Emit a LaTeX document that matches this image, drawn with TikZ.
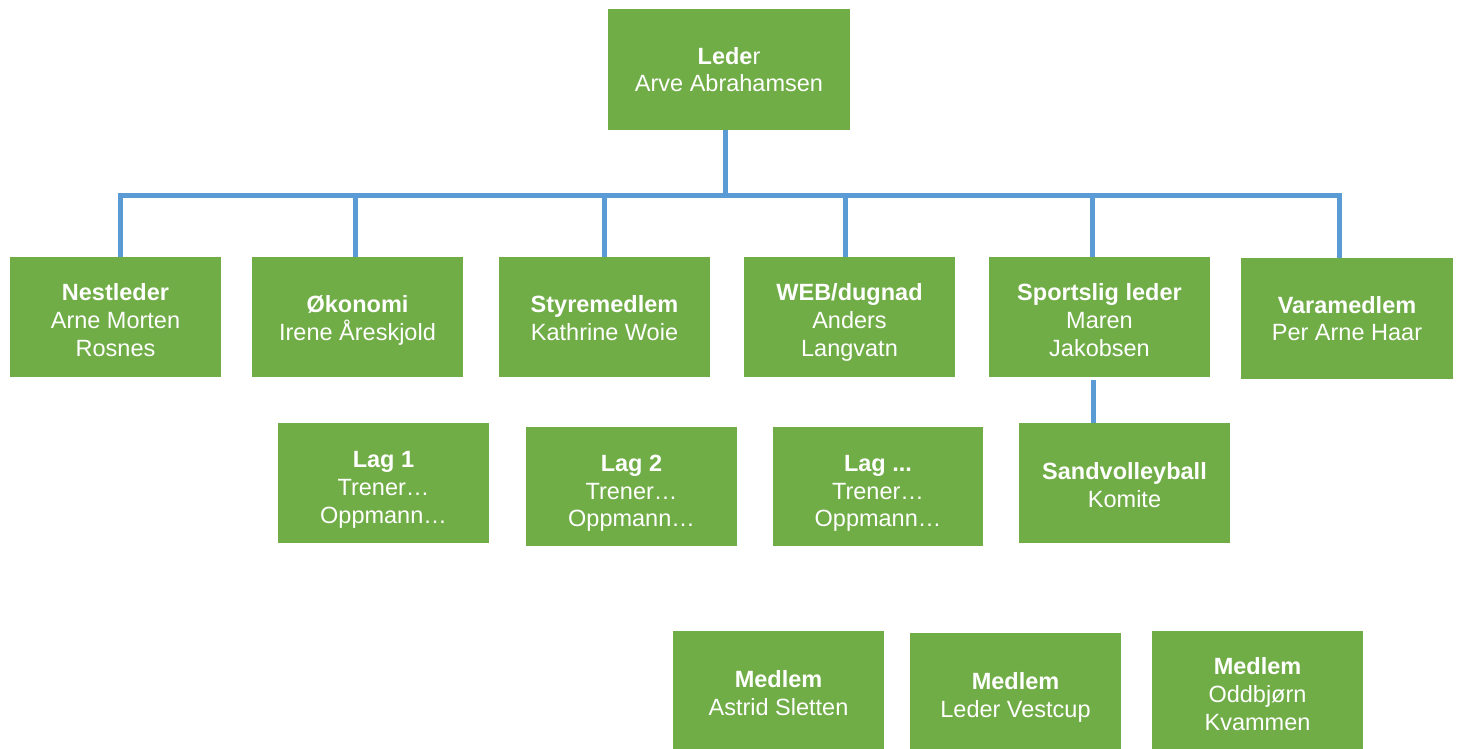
\documentclass[tikz,border=0pt]{standalone}
\usepackage{fontspec}
\setmainfont{Liberation Sans}
\definecolor{boxgreen}{HTML}{70AD47}
\definecolor{linkblue}{HTML}{5B9BD5}
\newcommand{\orgtxt}[2][3]{\raisebox{-#1pt}[\height][\depth]{\begin{tabular}{@{}c@{}}#2\end{tabular}}}
\begin{document}
\begin{tikzpicture}[x=1pt,y=-1pt,
  orgbox/.style={fill=boxgreen, draw=none, text=white, align=center, inner sep=0pt,
    font=\fontsize{23.5}{27.6}\selectfont},
  conn/.style={draw=linkblue, line width=5pt}]
\useasboundingbox (0,0) rectangle (1459,749);
% top
\node[orgbox, minimum width=242, minimum height=121] (leder) at (729,69.5) {\orgtxt[3]{\textbf{Lede}r\\Arve Abrahamsen}};
% row 2
\node[orgbox, minimum width=211, minimum height=120] (nest) at (115.5,317) {\orgtxt[6]{\textbf{Nestleder}\\Arne Morten\\Rosnes}};
\node[orgbox, minimum width=211, minimum height=120] (oko) at (357.5,317) {\orgtxt[4]{\textbf{Økonomi}\\Irene Åreskjold}};
\node[orgbox, minimum width=211, minimum height=120] (styre) at (604.5,317) {\orgtxt[4]{\textbf{Styremedlem}\\Kathrine Woie}};
\node[orgbox, minimum width=211, minimum height=120] (web) at (849.5,317) {\orgtxt[6]{\textbf{WEB/dugnad}\\Anders\\Langvatn}};
\node[orgbox, minimum width=221, minimum height=120] (sport) at (1099.5,317) {\orgtxt[6]{\textbf{Sportslig leder}\\Maren\\Jakobsen}};
\node[orgbox, minimum width=212, minimum height=121] (vara) at (1347,318.5) {\orgtxt[3]{\textbf{Varamedlem}\\Per Arne Haar}};
% row 3
\node[orgbox, minimum width=211, minimum height=120] (lag1) at (383.5,483) {\orgtxt[7]{\textbf{Lag 1}\\Trener…\\Oppmann…}};
\node[orgbox, minimum width=211, minimum height=119] (lag2) at (631.5,486.5) {\orgtxt[7]{\textbf{Lag 2}\\Trener…\\Oppmann…}};
\node[orgbox, minimum width=210, minimum height=119] (lagx) at (878,486.5) {\orgtxt[7]{\textbf{Lag ...}\\Trener…\\Oppmann…}};
\node[orgbox, minimum width=211, minimum height=120] (sand) at (1124.5,483) {\orgtxt[5]{\textbf{Sandvolleyball}\\Komite}};
% row 4
\node[orgbox, minimum width=211, minimum height=118] (m1) at (778.5,690) {\orgtxt[6]{\textbf{Medlem}\\Astrid Sletten}};
\node[orgbox, minimum width=211, minimum height=116] (m2) at (1015.5,691) {\orgtxt[7]{\textbf{Medlem}\\Leder Vestcup}};
\node[orgbox, minimum width=211, minimum height=118] (m3) at (1257.5,690) {\orgtxt[7]{\textbf{Medlem}\\Oddbjørn\\Kvammen}};
% connectors
\coordinate (d0) at (725,195);
\coordinate (d1) at (120,195);
\coordinate (d2) at (355,195);
\coordinate (d3) at (604,195);
\coordinate (d4) at (845,195);
\coordinate (d5) at (1092,195);
\coordinate (d6) at (1339,195);
\draw[conn] (leder.south -| d0) -- (d0);
\draw[conn, line cap=rect] (d1) -- (d6);
\draw[conn] (d1) -- (nest.north -| d1);
\draw[conn] (d2) -- (oko.north -| d2);
\draw[conn] (d3) -- (styre.north -| d3);
\draw[conn] (d4) -- (web.north -| d4);
\draw[conn] (d5) -- (sport.north -| d5);
\draw[conn] (d6) -- (vara.north -| d6);
\coordinate (s1) at (1093,380);
\draw[conn] (s1) -- (sand.north -| s1);
\end{tikzpicture}
\end{document}
